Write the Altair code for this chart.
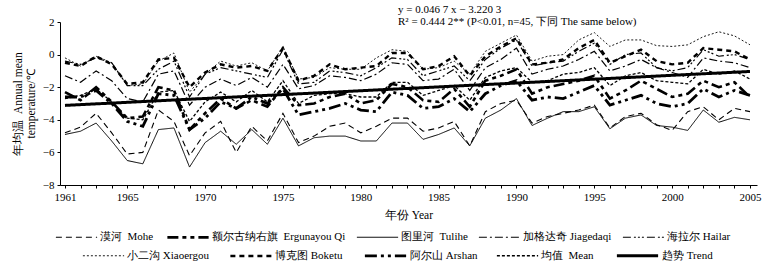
import altair as alt
import pandas as pd

years = list(range(1961, 2006))

mohe = [-4.8, -4.45, -3.6, -4.8, -6.1, -6.0, -3.4, -4.1, -6.2, -4.8,
        -4.1, -6.0, -4.4, -5.3, -3.6, -5.4, -5.0, -4.4, -4.2, -4.8,
        -4.4, -3.9, -3.9, -4.7, -4.5, -4.1, -5.6, -3.5, -3.0, -2.8,
        -4.2, -3.8, -3.6, -3.4, -3.1, -4.5, -3.8, -3.6, -4.3, -4.65,
        -3.5, -3.2, -4.0, -3.3, -3.5]
ergun = [-2.3, -2.8, -2.0, -2.9, -3.9, -3.8, -2.0, -2.2, -4.6, -3.6,
         -2.7, -3.3, -2.8, -3.2, -2.0, -3.1, -3.0, -2.6, -2.4, -3.0,
         -2.8, -1.8, -2.0, -2.8, -2.9, -2.1, -3.2, -1.6, -1.3, -0.9,
         -2.4, -2.0, -1.8, -1.6, -1.3, -2.7, -2.2, -1.6, -2.1, -2.6,
         -2.4, -1.6, -2.0, -1.7, -2.6]
tulihe = [-4.9, -4.7, -4.2, -5.3, -6.5, -6.7, -4.6, -4.5, -6.9, -5.4,
          -4.7, -5.5, -4.6, -5.5, -3.9, -5.6, -5.1, -5.0, -5.0, -5.3,
          -5.3, -4.2, -4.2, -5.2, -4.9, -4.5, -5.6, -3.9, -3.4, -2.7,
          -4.35, -3.9, -3.5, -3.5, -3.2, -4.55, -3.9, -3.7, -4.35, -4.45,
          -4.65, -3.4, -4.15, -3.85, -4.0]
jiagedaqi = [-1.3, -1.7, -1.0, -1.6, -2.7, -2.9, -1.2, -1.0, -3.1, -2.0,
             -1.5, -1.9, -1.4, -2.0, -0.6, -2.1, -1.9, -1.3, -1.4, -1.6,
             -1.2, -0.5, -0.6, -1.6, -1.5, -0.9, -2.2, -0.8, -0.3, 0.4,
             -1.2, -0.9, -0.7, -0.3, 0.2, -1.0, -0.7, -0.3, -0.8, -1.1,
             -1.4, -0.2, -0.4, -0.5, -0.8]
hailar = [-0.4, -0.6, -0.2, -0.5, -1.9, -1.9, -0.9, -0.4, -2.6, -1.2,
          -0.8, -1.0, -1.2, -1.4, 0.3, -1.8, -1.7, -1.0, -1.1, -1.3,
          -0.8, -0.2, -0.3, -1.3, -1.0, -0.7, -1.6, -0.3, 0.4, 0.9,
          -0.7, -0.5, -0.4, 0.2, 0.7, -0.6, 0.0, 0.1, -0.8, -1.0,
          -0.8, 0.3, -0.1, 0.0, -0.3]
xiaoergou = [-0.2, -0.7, -0.1, -0.5, -1.9, -1.8, -0.4, 0.1, -2.3, -1.2,
             -0.4, -0.7, -0.5, -1.0, 0.5, -1.5, -1.4, -0.8, -0.9, -0.9,
             -0.2, 0.3, 0.2, -0.9, -0.8, -0.4, -1.2, 0.2, 0.7, 1.2,
             -0.4, -0.1, 0.0, 0.9, 1.35, 0.5, 0.9, 0.9, 0.55, 0.5,
             0.6, 1.1, 1.4, 1.15, 0.6]
boketu = [-0.5, -0.7, -0.1, -0.6, -1.8, -1.7, -0.3, -0.2, -2.0, -1.1,
          -0.6, -0.8, -0.7, -1.0, 0.4, -1.6, -1.3, -0.6, -0.9, -0.8,
          -0.7, 0.1, 0.1, -0.9, -0.7, -0.1, -1.3, -0.1, 0.5, 1.0,
          -0.6, -0.5, -0.3, 0.4, 0.9, -0.5, -0.1, 0.3, -0.4, -0.6,
          -0.5, 0.4, 0.3, 0.2, -0.3]
arshan = [-2.6, -2.6, -2.2, -3.0, -4.1, -4.4, -2.4, -2.5, -4.6, -3.9,
          -2.9, -3.3, -2.6, -3.0, -2.1, -3.7, -3.5, -3.3, -3.0, -3.4,
          -3.5, -2.3, -2.5, -3.3, -3.2, -2.7, -3.5, -2.4, -1.9, -1.6,
          -2.8, -2.6, -2.7, -2.3, -1.9, -3.1, -2.8, -2.5, -3.0, -3.2,
          -3.0, -2.1, -2.6, -2.2, -2.5]
mean = [-2.7, -2.5, -2.1, -2.9, -3.9, -4.0, -2.3, -2.2, -4.1, -2.9,
        -2.3, -2.9, -2.2, -2.9, -1.6, -3.0, -2.5, -2.4, -2.4, -2.6,
        -2.6, -1.7, -1.7, -2.5, -2.2, -1.9, -2.8, -1.4, -1.0, -0.8,
        -1.7, -1.6, -1.2, -1.1, -0.8, -1.9, -1.3, -1.1, -1.6, -1.7,
        -1.8, -0.9, -1.2, -1.0, -1.5]

NB = "\u00a0"
names_a = ["漠河" + NB * 2 + "Mohe", "额尔古纳右旗" + NB * 2 + "Ergunayou Qi",
           "图里河" + NB * 2 + "Tulihe", "加格达奇" + NB + "Jiagedaqi",
           "海拉尔" + NB + "Hailar"]
names_b = ["小二沟" + NB + "Xiaoergou", "博克图" + NB + "Boketu",
           "阿尔山" + NB + "Arshan", "均值" + NB * 2 + "Mean", "趋势" + NB + "Trend"]

series_a = [mohe, ergun, tulihe, jiagedaqi, hailar]
series_b = [xiaoergou, boketu, arshan, mean]

dash_a = [[6, 4], [11, 4, 4, 4, 4, 4], [1, 0], [8, 3, 2, 3], [8, 3, 2, 2, 2, 2, 2, 3]]
width_a = [1.1, 2.6, 1.0, 1.2, 1.2]
dash_b = [[2, 2], [5, 4], [12, 4, 3, 4, 3, 4], [3, 2], [1, 0]]
width_b = [0.9, 2.4, 2.8, 1.3, 3.0]

rows_a = [{"year": y, "value": v, "series": n}
          for n, s in zip(names_a, series_a) for y, v in zip(years, s)]
rows_b = [{"year": y, "value": v, "series": n}
          for n, s in zip(names_b[:4], series_b) for y, v in zip(years, s)]
df_a = pd.DataFrame(rows_a)
df_b = pd.DataFrame(rows_b)
df_mean = pd.DataFrame({"year": years, "value": mean})

FONT = "Liberation Serif"

x_enc = alt.X("year:Q",
              scale=alt.Scale(domain=[1960.68, 2005.45], nice=False, zero=False),
              axis=alt.Axis(values=years, format="d",
                            labelExpr="(datum.value == 1961 || datum.value % 5 == 0) ? datum.label : ''",
                            title="年份" + NB + "Year", tickSize=3, labelPadding=3,
                            titlePadding=7, grid=False))
y_enc = alt.Y("value:Q",
              scale=alt.Scale(domain=[-8, 2], nice=False),
              axis=alt.Axis(values=[-8, -6, -4, -2, 0, 2],
                            title=["年均温" + NB * 2 + "Annual mean", "temperature/℃"],
                            tickSize=3, labelPadding=3, titlePadding=6, grid=False))


def legend(lx, ly, pad):
    return alt.Legend(orient="none", legendX=lx, legendY=ly, direction="horizontal",
                      title=None, symbolType="stroke", symbolSize=1700,
                      symbolStrokeColor="black", labelFont=FONT, labelFontSize=11,
                      labelColor="black", labelOffset=2, columnPadding=pad,
                      labelLimit=300, padding=0)


leg_a = legend(-5, 193, 8)
leg_b = legend(22, 211, 16)

lines_a = alt.Chart(df_a).mark_line(color="black").encode(
    x=x_enc, y=y_enc,
    strokeDash=alt.StrokeDash("series:N", scale=alt.Scale(domain=names_a, range=dash_a), legend=leg_a),
    strokeWidth=alt.StrokeWidth("series:N", scale=alt.Scale(type="ordinal", domain=names_a, range=width_a), legend=leg_a),
)

sd_b = alt.StrokeDash("series:N", scale=alt.Scale(domain=names_b, range=dash_b), legend=leg_b)
sw_b = alt.StrokeWidth("series:N", scale=alt.Scale(type="ordinal", domain=names_b, range=width_b), legend=leg_b)

lines_b = alt.Chart(df_b).mark_line(color="black").encode(
    x=x_enc, y=y_enc, strokeDash=sd_b, strokeWidth=sw_b)

trend = alt.Chart(df_mean).transform_regression(
    "year", "value", extent=[1961, 2005]
).transform_calculate(
    series="'" + names_b[4] + "'"
).mark_line(color="black").encode(
    x=x_enc, y=y_enc, strokeDash=sd_b, strokeWidth=sw_b)

eq1 = "y = 0.046 7 x − 3.220 3"
eq2 = "R² = 0.444 2** (P<0.01, n=45, 下同 The same below)"

ann1 = alt.Chart(pd.DataFrame({"t": [eq1]})).mark_text(
    align="left", baseline="middle", font=FONT, fontSize=11, color="black", dy=-12
).encode(text="t:N", x=alt.value(338), y=alt.value(0))
ann2 = alt.Chart(pd.DataFrame({"t": [eq2]})).mark_text(
    align="left", baseline="middle", font=FONT, fontSize=11, color="black", dy=0
).encode(text="t:N", x=alt.value(338), y=alt.value(0))

chart = alt.layer(
    lines_a, alt.layer(lines_b, trend), ann1, ann2
).resolve_scale(
    strokeDash="independent", strokeWidth="independent"
).resolve_legend(
    strokeDash="independent", strokeWidth="independent"
).properties(
    width=697, height=163,
    autosize=alt.AutoSizeParams(type="none"),
    padding={"left": 60, "top": 22, "right": 10, "bottom": 82},
    background="white",
).configure_view(stroke=None).configure_axis(
    labelFont=FONT, titleFont=FONT, labelFontSize=11, titleFontSize=11.5,
    titleFontWeight="normal", labelColor="black", titleColor="black",
    domainColor="black", tickColor="black", titleLineHeight=13,
)

chart.save("out.html", embed_options={"renderer": "svg", "actions": False})
